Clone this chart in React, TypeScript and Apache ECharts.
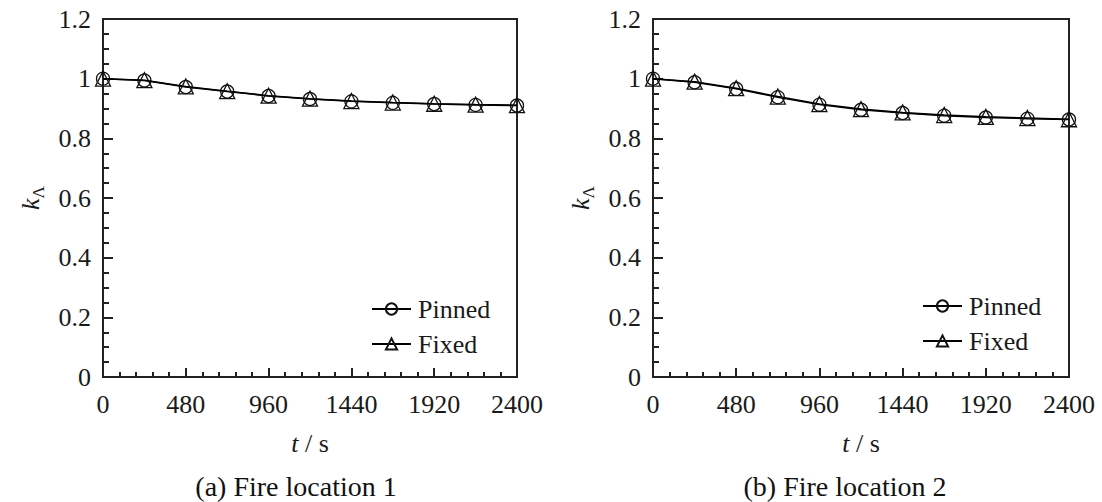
import React, { useEffect, useRef } from "react";
import * as echarts from "echarts";

const times = [0, 240, 480, 720, 960, 1200, 1440, 1680, 1920, 2160, 2400];
const pinned1 = [1.0, 0.994, 0.972, 0.957, 0.942, 0.932, 0.924, 0.919, 0.915, 0.912, 0.91];
const fixed1 = [1.0, 0.995, 0.974, 0.958, 0.943, 0.933, 0.925, 0.92, 0.916, 0.913, 0.911];
const pinned2 = [1.0, 0.988, 0.966, 0.938, 0.913, 0.896, 0.885, 0.876, 0.87, 0.866, 0.863];
const fixed2 = [1.0, 0.99, 0.968, 0.94, 0.915, 0.898, 0.887, 0.878, 0.872, 0.868, 0.864];
const seriesNames = ["Pinned", "Fixed"];
const captions = ["(a) Fire location 1", "(b) Fire location 2"];

const FONT = "Liberation Serif, Times New Roman, serif";
const INK = "#1a1a1a";

const grids = [
  { left: 103, top: 19, width: 414, height: 358 },
  { left: 653, top: 19, width: 416, height: 358 },
];

export default function App() {
  const ref = useRef<HTMLDivElement>(null);
  useEffect(() => {
    document.body.style.margin = "0";
    if (!ref.current) return;
    const chart = echarts.init(ref.current, undefined, { renderer: "svg" });
    const pair = (arr: number[]) => times.map((t, i) => [t, arr[i]]);
    const datasets = [
      [pinned1, fixed1],
      [pinned2, fixed2],
    ];
    const series: any[] = [];
    datasets.forEach((d, gi) => {
      d.forEach((vals, si) => {
        series.push({
          type: "line",
          name: seriesNames[si],
          xAxisIndex: gi,
          yAxisIndex: gi,
          data: pair(vals),
          symbol: si === 0 ? "circle" : "triangle",
          symbolSize: si === 0 ? 13 : 15,
          showAllSymbol: true,
          lineStyle: { color: "#000", width: 1.5 },
          itemStyle: { color: "rgba(0,0,0,0)", borderColor: "#111", borderWidth: 1.3 },
          emphasis: { disabled: true },
          z: si === 0 ? 3 : 4,
        });
      });
    });
    const xAxes = grids.map((_, gi) => ({
      type: "value",
      gridIndex: gi,
      min: 0,
      max: 2400,
      interval: 480,
      name: "{i|t} / s",
      nameLocation: "middle",
      nameGap: 53,
      nameTextStyle: {
        fontSize: 26,
        fontFamily: FONT,
        color: INK,
        rich: { i: { fontStyle: "italic", fontSize: 26, fontFamily: FONT, color: INK } },
      },
      axisLine: { show: true, lineStyle: { color: "#222", width: 2 } },
      axisTick: { show: true, inside: true, length: 9, lineStyle: { color: "#222", width: 2 } },
      minorTick: { show: true, splitNumber: 5, length: 5, lineStyle: { color: "#222", width: 2 } },
      splitLine: { show: false },
      axisLabel: {
        fontSize: 26,
        fontFamily: FONT,
        color: INK,
        margin: 14,
        formatter: (v: number) => String(v),
      },
    }));
    const yAxes = grids.map((_, gi) => ({
      type: "value",
      gridIndex: gi,
      min: 0,
      max: 1.2,
      interval: 0.2,
      name: "{k|k}{s|Λ}",
      nameLocation: "middle",
      nameRotate: 90,
      nameGap: 56,
      nameTextStyle: {
        fontSize: 26,
        fontFamily: FONT,
        color: INK,
        rich: {
          k: { fontStyle: "italic", fontSize: 26, fontFamily: FONT, color: INK, lineHeight: 34 },
          s: { fontSize: 17, fontFamily: FONT, color: INK, lineHeight: 18, verticalAlign: "bottom" },
        },
      },
      axisLine: { show: true, lineStyle: { color: "#222", width: 2 } },
      axisTick: { show: true, inside: true, length: 10, lineStyle: { color: "#222", width: 2 } },
      minorTick: { show: true, splitNumber: 4, length: 6, lineStyle: { color: "#222", width: 2 } },
      splitLine: { show: false },
      axisLabel: {
        fontSize: 26,
        fontFamily: FONT,
        color: INK,
        margin: 12,
        formatter: (v: number) => String(Math.round(v * 10) / 10),
      },
    }));
    const legends = [371, 922].map((left, gi) => ({
      orient: "vertical",
      left,
      top: gi === 0 ? 296 : 293,
      padding: 0,
      itemWidth: 39,
      itemHeight: 14,
      itemGap: 9,
      selectedMode: false,
      data: seriesNames,
      textStyle: { fontSize: 26, fontFamily: FONT, color: INK, padding: [0, 0, 0, 2] },
    }));
    chart.setOption({
      animation: false,
      backgroundColor: "#fff",
      grid: grids.map((g) => ({
        ...g,
        show: true,
        borderColor: "#222",
        borderWidth: 2,
        backgroundColor: "rgba(0,0,0,0)",
        containLabel: false,
      })),
      xAxis: xAxes,
      yAxis: yAxes,
      legend: legends,
      series,
      graphic: [296, 845].map((x, gi) => ({
        type: "text",
        x,
        y: 486,
        style: {
          text: captions[gi],
          fontSize: 28,
          fontFamily: FONT,
          fill: "#111",
          textAlign: "center",
          textVerticalAlign: "middle",
        },
      })),
    });
    return () => chart.dispose();
  }, []);
  return <div ref={ref} style={{ width: 1102, height: 502 }} />;
}
